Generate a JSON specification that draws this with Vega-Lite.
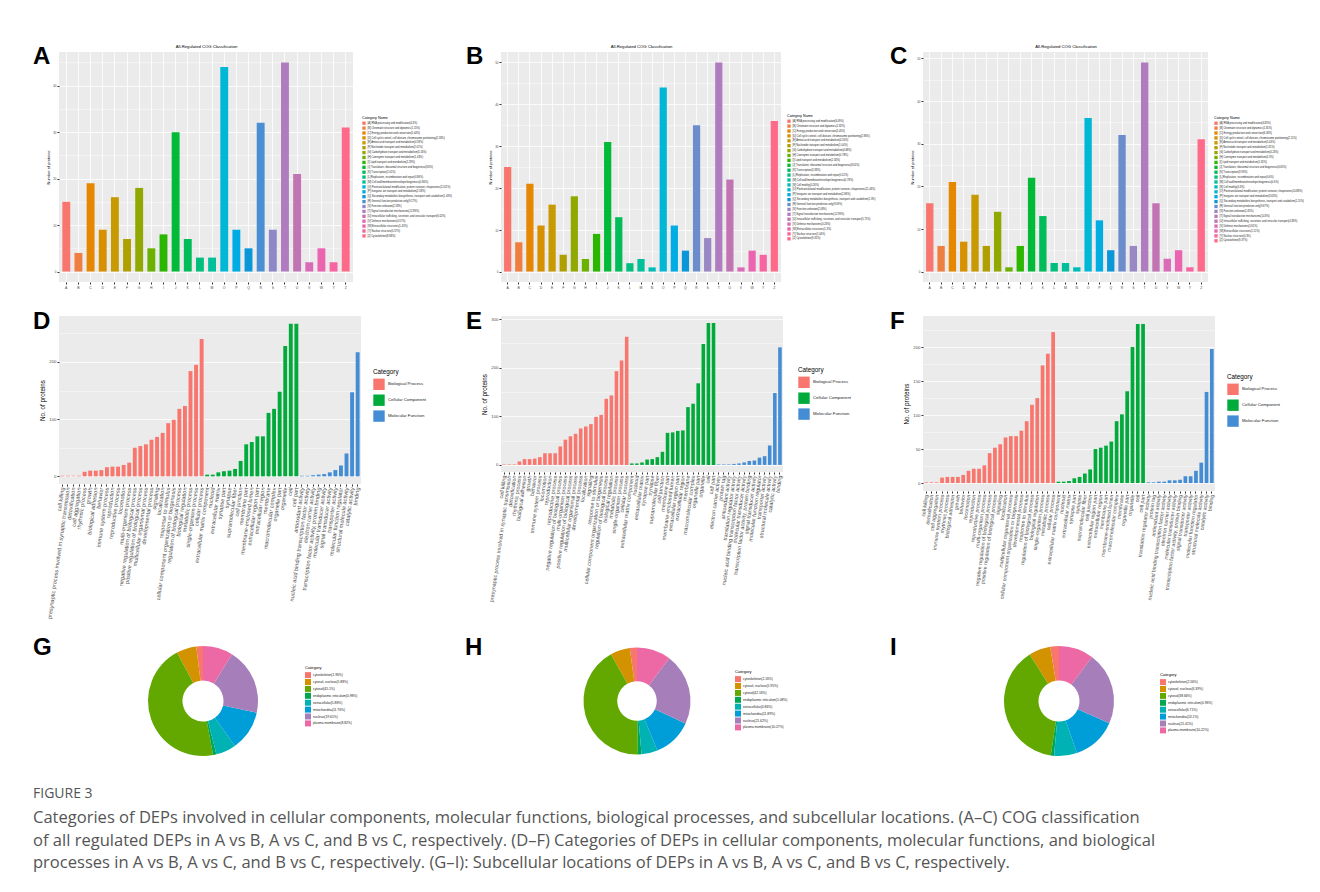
{
  "$schema": "https://vega.github.io/schema/vega-lite/v6.json",
  "background": "white",
  "padding": {"left": 33, "top": 44, "right": 0, "bottom": 0},
  "config": {
    "font": "Liberation Sans",
    "view": {"stroke": null},
    "axis": {"labelColor": "#4D4D4D", "tickColor": "#333333", "titleColor": "#000000", "titleFontWeight": "normal", "domain": false, "gridColor": "#FFFFFF"},
    "legend": {"titleFontWeight": "normal", "titleColor": "#000000", "labelColor": "#222222", "symbolType": "square", "symbolStrokeWidth": 0}
  },
  "title": {
    "text": "FIGURE 3",
    "subtitle": [
      "Categories of DEPs involved in cellular components, molecular functions, biological processes, and subcellular locations. (A–C) COG classification",
      "of all regulated DEPs in A vs B, A vs C, and B vs C, respectively. (D–F) Categories of DEPs in cellular components, molecular functions, and biological",
      "processes in A vs B, A vs C, and B vs C, respectively. (G–I): Subcellular locations of DEPs in A vs B, A vs C, and B vs C, respectively."
    ],
    "orient": "bottom", "anchor": "start", "frame": "bounds", "offset": -90,
    "font": "Open Sans", "fontSize": 14, "fontWeight": "normal", "color": "#555555",
    "subtitleFont": "Open Sans", "subtitleFontSize": 16.55, "subtitleColor": "#555555", "subtitleLineHeight": 22.5, "subtitlePadding": 9
  },
  "datasets": {
    "cogA": [
      {"code":"A","label":"[A] RNA processing and modification(4.3%)","n":15},
      {"code":"B","label":"[B] Chromatin structure and dynamics(1.15%)","n":4},
      {"code":"C","label":"[C] Energy production and conversion(5.44%)","n":19},
      {"code":"D","label":"[D] Cell cycle control, cell division, chromosome partitioning(2.58%)","n":9},
      {"code":"E","label":"[E] Amino acid transport and metabolism(4.58%)","n":16},
      {"code":"F","label":"[F] Nucleotide transport and metabolism(2.01%)","n":7},
      {"code":"G","label":"[G] Carbohydrate transport and metabolism(5.16%)","n":18},
      {"code":"H","label":"[H] Coenzyme transport and metabolism(1.43%)","n":5},
      {"code":"I","label":"[I] Lipid transport and metabolism(2.29%)","n":8},
      {"code":"J","label":"[J] Translation, ribosomal structure and biogenesis(8.6%)","n":30},
      {"code":"K","label":"[K] Transcription(2.01%)","n":7},
      {"code":"L","label":"[L] Replication, recombination and repair(0.86%)","n":3},
      {"code":"M","label":"[M] Cell wall/membrane/envelope biogenesis(0.86%)","n":3},
      {"code":"O","label":"[O] Posttranslational modification, protein turnover, chaperones(12.61%)","n":44},
      {"code":"P","label":"[P] Inorganic ion transport and metabolism(2.58%)","n":9},
      {"code":"Q","label":"[Q] Secondary metabolites biosynthesis, transport and catabolism(1.43%)","n":5},
      {"code":"R","label":"[R] General function prediction only(9.17%)","n":32},
      {"code":"S","label":"[S] Function unknown(2.58%)","n":9},
      {"code":"T","label":"[T] Signal transduction mechanisms(12.89%)","n":45},
      {"code":"U","label":"[U] Intracellular trafficking, secretion, and vesicular transport(6.02%)","n":21},
      {"code":"V","label":"[V] Defense mechanisms(0.57%)","n":2},
      {"code":"W","label":"[W] Extracellular structures(1.43%)","n":5},
      {"code":"Y","label":"[Y] Nuclear structure(0.57%)","n":2},
      {"code":"Z","label":"[Z] Cytoskeleton(8.88%)","n":31}
    ],
    "cogB": [
      {"code":"A","label":"[A] RNA processing and modification(6.49%)","n":25},
      {"code":"B","label":"[B] Chromatin structure and dynamics(1.82%)","n":7},
      {"code":"C","label":"[C] Energy production and conversion(5.45%)","n":21},
      {"code":"D","label":"[D] Cell cycle control, cell division, chromosome partitioning(2.86%)","n":11},
      {"code":"E","label":"[E] Amino acid transport and metabolism(4.16%)","n":16},
      {"code":"F","label":"[F] Nucleotide transport and metabolism(1.04%)","n":4},
      {"code":"G","label":"[G] Carbohydrate transport and metabolism(4.68%)","n":18},
      {"code":"H","label":"[H] Coenzyme transport and metabolism(0.78%)","n":3},
      {"code":"I","label":"[I] Lipid transport and metabolism(2.34%)","n":9},
      {"code":"J","label":"[J] Translation, ribosomal structure and biogenesis(8.05%)","n":31},
      {"code":"K","label":"[K] Transcription(3.38%)","n":13},
      {"code":"L","label":"[L] Replication, recombination and repair(0.52%)","n":2},
      {"code":"M","label":"[M] Cell wall/membrane/envelope biogenesis(0.78%)","n":3},
      {"code":"N","label":"[N] Cell motility(0.26%)","n":1},
      {"code":"O","label":"[O] Posttranslational modification, protein turnover, chaperones(11.43%)","n":44},
      {"code":"P","label":"[P] Inorganic ion transport and metabolism(2.86%)","n":11},
      {"code":"Q","label":"[Q] Secondary metabolites biosynthesis, transport and catabolism(1.3%)","n":5},
      {"code":"R","label":"[R] General function prediction only(9.09%)","n":35},
      {"code":"S","label":"[S] Function unknown(2.08%)","n":8},
      {"code":"T","label":"[T] Signal transduction mechanisms(12.99%)","n":50},
      {"code":"U","label":"[U] Intracellular trafficking, secretion, and vesicular transport(5.71%)","n":22},
      {"code":"V","label":"[V] Defense mechanisms(0.26%)","n":1},
      {"code":"W","label":"[W] Extracellular structures(1.3%)","n":5},
      {"code":"Y","label":"[Y] Nuclear structure(1.04%)","n":4},
      {"code":"Z","label":"[Z] Cytoskeleton(9.35%)","n":36}
    ],
    "cogC": [
      {"code":"A","label":"[A] RNA processing and modification(4.83%)","n":16},
      {"code":"B","label":"[B] Chromatin structure and dynamics(1.81%)","n":6},
      {"code":"C","label":"[C] Energy production and conversion(6.34%)","n":21},
      {"code":"D","label":"[D] Cell cycle control, cell division, chromosome partitioning(2.11%)","n":7},
      {"code":"E","label":"[E] Amino acid transport and metabolism(5.44%)","n":18},
      {"code":"F","label":"[F] Nucleotide transport and metabolism(1.81%)","n":6},
      {"code":"G","label":"[G] Carbohydrate transport and metabolism(4.23%)","n":14},
      {"code":"H","label":"[H] Coenzyme transport and metabolism(0.3%)","n":1},
      {"code":"I","label":"[I] Lipid transport and metabolism(1.81%)","n":6},
      {"code":"J","label":"[J] Translation, ribosomal structure and biogenesis(6.65%)","n":22},
      {"code":"K","label":"[K] Transcription(3.93%)","n":13},
      {"code":"L","label":"[L] Replication, recombination and repair(0.6%)","n":2},
      {"code":"M","label":"[M] Cell wall/membrane/envelope biogenesis(0.6%)","n":2},
      {"code":"N","label":"[N] Cell motility(0.3%)","n":1},
      {"code":"O","label":"[O] Posttranslational modification, protein turnover, chaperones(10.88%)","n":36},
      {"code":"P","label":"[P] Inorganic ion transport and metabolism(3.63%)","n":12},
      {"code":"Q","label":"[Q] Secondary metabolites biosynthesis, transport and catabolism(1.51%)","n":5},
      {"code":"R","label":"[R] General function prediction only(9.67%)","n":32},
      {"code":"S","label":"[S] Function unknown(1.81%)","n":6},
      {"code":"T","label":"[T] Signal transduction mechanisms(14.8%)","n":49},
      {"code":"U","label":"[U] Intracellular trafficking, secretion, and vesicular transport(4.83%)","n":16},
      {"code":"V","label":"[V] Defense mechanisms(0.91%)","n":3},
      {"code":"W","label":"[W] Extracellular structures(1.51%)","n":5},
      {"code":"Y","label":"[Y] Nuclear structure(0.3%)","n":1},
      {"code":"Z","label":"[Z] Cytoskeleton(9.37%)","n":31}
    ],
    "goD": [
      {"category":"Biological Process","term":"cell killing","n":1},
      {"category":"Biological Process","term":"presynaptic process involved in synaptic transmission","n":1},
      {"category":"Biological Process","term":"detoxification","n":1},
      {"category":"Biological Process","term":"cell aggregation","n":1},
      {"category":"Biological Process","term":"rhythmic process","n":8},
      {"category":"Biological Process","term":"growth","n":10},
      {"category":"Biological Process","term":"biological adhesion","n":10},
      {"category":"Biological Process","term":"behavior","n":11},
      {"category":"Biological Process","term":"immune system process","n":16},
      {"category":"Biological Process","term":"reproduction","n":17},
      {"category":"Biological Process","term":"reproductive process","n":17},
      {"category":"Biological Process","term":"locomotion","n":20},
      {"category":"Biological Process","term":"multi-organism process","n":24},
      {"category":"Biological Process","term":"negative regulation of biological process","n":50},
      {"category":"Biological Process","term":"positive regulation of biological process","n":53},
      {"category":"Biological Process","term":"multicellular organismal process","n":56},
      {"category":"Biological Process","term":"developmental process","n":64},
      {"category":"Biological Process","term":"signaling","n":69},
      {"category":"Biological Process","term":"localization","n":76},
      {"category":"Biological Process","term":"response to stimulus","n":93},
      {"category":"Biological Process","term":"cellular component organization or biogenesis","n":99},
      {"category":"Biological Process","term":"regulation of biological process","n":118},
      {"category":"Biological Process","term":"biological regulation","n":123},
      {"category":"Biological Process","term":"metabolic process","n":184},
      {"category":"Biological Process","term":"single-organism process","n":195},
      {"category":"Biological Process","term":"cellular process","n":240},
      {"category":"Cellular Component","term":"extracellular matrix component","n":3},
      {"category":"Cellular Component","term":"nucleoid","n":3},
      {"category":"Cellular Component","term":"extracellular matrix","n":7},
      {"category":"Cellular Component","term":"synapse part","n":9},
      {"category":"Cellular Component","term":"synapse","n":10},
      {"category":"Cellular Component","term":"supramolecular fiber","n":13},
      {"category":"Cellular Component","term":"cell junction","n":27},
      {"category":"Cellular Component","term":"membrane part","n":56},
      {"category":"Cellular Component","term":"membrane-enclosed lumen","n":60},
      {"category":"Cellular Component","term":"extracellular region part","n":70},
      {"category":"Cellular Component","term":"extracellular region","n":70},
      {"category":"Cellular Component","term":"membrane","n":111},
      {"category":"Cellular Component","term":"macromolecular complex","n":118},
      {"category":"Cellular Component","term":"organelle part","n":148},
      {"category":"Cellular Component","term":"organelle","n":228},
      {"category":"Cellular Component","term":"cell","n":267},
      {"category":"Cellular Component","term":"cell part","n":267},
      {"category":"Molecular Function","term":"antioxidant activity","n":1},
      {"category":"Molecular Function","term":"nucleic acid binding transcription factor activity","n":1},
      {"category":"Molecular Function","term":"electron carrier activity","n":2},
      {"category":"Molecular Function","term":"transcription factor activity, protein binding","n":3},
      {"category":"Molecular Function","term":"molecular transducer activity","n":4},
      {"category":"Molecular Function","term":"signal transducer activity","n":7},
      {"category":"Molecular Function","term":"transporter activity","n":11},
      {"category":"Molecular Function","term":"molecular function regulator","n":19},
      {"category":"Molecular Function","term":"structural molecule activity","n":40},
      {"category":"Molecular Function","term":"catalytic activity","n":147},
      {"category":"Molecular Function","term":"binding","n":217}
    ],
    "goE": [
      {"category":"Biological Process","term":"cell killing","n":1},
      {"category":"Biological Process","term":"presynaptic process involved in synaptic transmission","n":1},
      {"category":"Biological Process","term":"detoxification","n":1},
      {"category":"Biological Process","term":"rhythmic process","n":7},
      {"category":"Biological Process","term":"biological adhesion","n":12},
      {"category":"Biological Process","term":"growth","n":12},
      {"category":"Biological Process","term":"behavior","n":13},
      {"category":"Biological Process","term":"immune system process","n":16},
      {"category":"Biological Process","term":"locomotion","n":24},
      {"category":"Biological Process","term":"reproduction","n":24},
      {"category":"Biological Process","term":"reproductive process","n":24},
      {"category":"Biological Process","term":"negative regulation of biological process","n":38},
      {"category":"Biological Process","term":"multi-organism process","n":52},
      {"category":"Biological Process","term":"positive regulation of biological process","n":59},
      {"category":"Biological Process","term":"multicellular organismal process","n":64},
      {"category":"Biological Process","term":"developmental process","n":75},
      {"category":"Biological Process","term":"localization","n":79},
      {"category":"Biological Process","term":"signaling","n":84},
      {"category":"Biological Process","term":"response to stimulus","n":99},
      {"category":"Biological Process","term":"cellular component organization or biogenesis","n":103},
      {"category":"Biological Process","term":"regulation of biological process","n":136},
      {"category":"Biological Process","term":"biological regulation","n":143},
      {"category":"Biological Process","term":"metabolic process","n":193},
      {"category":"Biological Process","term":"single-organism process","n":215},
      {"category":"Biological Process","term":"cellular process","n":264},
      {"category":"Cellular Component","term":"extracellular matrix component","n":3},
      {"category":"Cellular Component","term":"nucleoid","n":3},
      {"category":"Cellular Component","term":"extracellular matrix","n":5},
      {"category":"Cellular Component","term":"synapse part","n":11},
      {"category":"Cellular Component","term":"synapse","n":12},
      {"category":"Cellular Component","term":"supramolecular fiber","n":16},
      {"category":"Cellular Component","term":"cell junction","n":27},
      {"category":"Cellular Component","term":"membrane part","n":66},
      {"category":"Cellular Component","term":"membrane-enclosed lumen","n":67},
      {"category":"Cellular Component","term":"extracellular region part","n":70},
      {"category":"Cellular Component","term":"extracellular region","n":71},
      {"category":"Cellular Component","term":"membrane","n":119},
      {"category":"Cellular Component","term":"macromolecular complex","n":126},
      {"category":"Cellular Component","term":"organelle part","n":168},
      {"category":"Cellular Component","term":"organelle","n":249},
      {"category":"Cellular Component","term":"cell","n":292},
      {"category":"Cellular Component","term":"cell part","n":292},
      {"category":"Molecular Function","term":"electron carrier activity","n":1},
      {"category":"Molecular Function","term":"protein tag","n":1},
      {"category":"Molecular Function","term":"antioxidant activity","n":1},
      {"category":"Molecular Function","term":"translation regulator activity","n":2},
      {"category":"Molecular Function","term":"nucleic acid binding transcription factor activity","n":3},
      {"category":"Molecular Function","term":"molecular transducer activity","n":5},
      {"category":"Molecular Function","term":"transcription factor activity, protein binding","n":8},
      {"category":"Molecular Function","term":"signal transducer activity","n":9},
      {"category":"Molecular Function","term":"molecular function regulator","n":15},
      {"category":"Molecular Function","term":"transporter activity","n":18},
      {"category":"Molecular Function","term":"structural molecule activity","n":40},
      {"category":"Molecular Function","term":"catalytic activity","n":148},
      {"category":"Molecular Function","term":"binding","n":242}
    ],
    "goF": [
      {"category":"Biological Process","term":"cell killing","n":1},
      {"category":"Biological Process","term":"detoxification","n":1},
      {"category":"Biological Process","term":"cell aggregation","n":1},
      {"category":"Biological Process","term":"immune system process","n":8},
      {"category":"Biological Process","term":"rhythmic process","n":9},
      {"category":"Biological Process","term":"biological adhesion","n":9},
      {"category":"Biological Process","term":"growth","n":9},
      {"category":"Biological Process","term":"behavior","n":12},
      {"category":"Biological Process","term":"locomotion","n":18},
      {"category":"Biological Process","term":"reproduction","n":21},
      {"category":"Biological Process","term":"reproductive process","n":21},
      {"category":"Biological Process","term":"multi-organism process","n":26},
      {"category":"Biological Process","term":"negative regulation of biological process","n":44},
      {"category":"Biological Process","term":"positive regulation of biological process","n":52},
      {"category":"Biological Process","term":"signaling","n":57},
      {"category":"Biological Process","term":"localization","n":67},
      {"category":"Biological Process","term":"multicellular organismal process","n":69},
      {"category":"Biological Process","term":"cellular component organization or biogenesis","n":69},
      {"category":"Biological Process","term":"developmental process","n":77},
      {"category":"Biological Process","term":"response to stimulus","n":91},
      {"category":"Biological Process","term":"regulation of biological process","n":115},
      {"category":"Biological Process","term":"biological regulation","n":125},
      {"category":"Biological Process","term":"single-organism process","n":173},
      {"category":"Biological Process","term":"metabolic process","n":190},
      {"category":"Biological Process","term":"cellular process","n":222},
      {"category":"Cellular Component","term":"extracellular matrix component","n":2},
      {"category":"Cellular Component","term":"nucleoid","n":2},
      {"category":"Cellular Component","term":"extracellular matrix","n":3},
      {"category":"Cellular Component","term":"synapse part","n":7},
      {"category":"Cellular Component","term":"synapse","n":9},
      {"category":"Cellular Component","term":"supramolecular fiber","n":14},
      {"category":"Cellular Component","term":"cell junction","n":20},
      {"category":"Cellular Component","term":"extracellular region part","n":50},
      {"category":"Cellular Component","term":"extracellular region","n":52},
      {"category":"Cellular Component","term":"membrane part","n":55},
      {"category":"Cellular Component","term":"membrane-enclosed lumen","n":61},
      {"category":"Cellular Component","term":"macromolecular complex","n":91},
      {"category":"Cellular Component","term":"membrane","n":101},
      {"category":"Cellular Component","term":"organelle part","n":135},
      {"category":"Cellular Component","term":"organelle","n":200},
      {"category":"Cellular Component","term":"cell","n":234},
      {"category":"Cellular Component","term":"cell part","n":234},
      {"category":"Molecular Function","term":"translation regulator activity","n":1},
      {"category":"Molecular Function","term":"protein tag","n":1},
      {"category":"Molecular Function","term":"antioxidant activity","n":2},
      {"category":"Molecular Function","term":"nucleic acid binding transcription factor activity","n":2},
      {"category":"Molecular Function","term":"electron carrier activity","n":4},
      {"category":"Molecular Function","term":"molecular transducer activity","n":4},
      {"category":"Molecular Function","term":"transcription factor activity, protein binding","n":5},
      {"category":"Molecular Function","term":"signal transducer activity","n":10},
      {"category":"Molecular Function","term":"transporter activity","n":10},
      {"category":"Molecular Function","term":"molecular function regulator","n":18},
      {"category":"Molecular Function","term":"structural molecule activity","n":30},
      {"category":"Molecular Function","term":"catalytic activity","n":134},
      {"category":"Molecular Function","term":"binding","n":197}
    ],
    "subG": [
      {"idx":1,"loc":"cytoskeleton(1.96%)","n":2},
      {"idx":2,"loc":"cytosol, nucleus(5.88%)","n":6},
      {"idx":3,"loc":"cytosol(45.1%)","n":46},
      {"idx":4,"loc":"endoplasmic reticulum(0.98%)","n":1},
      {"idx":5,"loc":"extracellular(5.88%)","n":6},
      {"idx":6,"loc":"mitochondria(11.76%)","n":12},
      {"idx":7,"loc":"nucleus(19.61%)","n":20},
      {"idx":8,"loc":"plasma membrane(8.82%)","n":9}
    ],
    "subH": [
      {"idx":1,"loc":"cytoskeleton(2.16%)","n":4},
      {"idx":2,"loc":"cytosol, nucleus(5.95%)","n":11},
      {"idx":3,"loc":"cytosol(42.16%)","n":78},
      {"idx":4,"loc":"endoplasmic reticulum(1.08%)","n":2},
      {"idx":5,"loc":"extracellular(4.86%)","n":9},
      {"idx":6,"loc":"mitochondria(11.89%)","n":22},
      {"idx":7,"loc":"nucleus(21.62%)","n":40},
      {"idx":8,"loc":"plasma membrane(10.27%)","n":19}
    ],
    "subI": [
      {"idx":1,"loc":"cytoskeleton(2.56%)","n":8},
      {"idx":2,"loc":"cytosol, nucleus(6.39%)","n":20},
      {"idx":3,"loc":"cytosol(38.66%)","n":121},
      {"idx":4,"loc":"endoplasmic reticulum(0.96%)","n":3},
      {"idx":5,"loc":"extracellular(6.71%)","n":21},
      {"idx":6,"loc":"mitochondria(13.1%)","n":41},
      {"idx":7,"loc":"nucleus(21.41%)","n":67},
      {"idx":8,"loc":"plasma membrane(10.22%)","n":32}
    ]
  },
  "columns": 3,
  "bounds": "flush",
  "align": "each",
  "spacing": {"row": 34, "column": 140},
  "resolve": {"scale": {"color": "independent"}},
  "concat": [
    {
      "width": 294, "height": 230,
      "view": {"fill": "#EBEBEB", "stroke": null},
      "title": {"text": "A", "anchor": "start", "frame": "group", "dx": -26, "offset": -24, "fontSize": 24, "fontWeight": "bold", "font": "Liberation Sans", "color": "#000000"},
      "data": {"name": "cogA"},
      "layer": [
        {
          "mark": {"type": "bar"},
          "encoding": {
            "x": {"field": "code", "type": "nominal", "sort": null, "scale": {"paddingInner": 0.35, "paddingOuter": 0.275},
              "axis": {"title": null, "labelAngle": 0, "labelFontSize": 3.5, "tickSize": 2, "labelPadding": 1, "grid": true, "gridWidth": 0.8}},
            "y": {"field": "n", "type": "quantitative", "scale": {"domain": [-2.25, 47.25], "nice": false},
              "axis": {"title": "Number of proteins", "titleFontSize": 4, "titlePadding": 2, "values": [0, 10, 20, 30, 40], "labelFontSize": 3, "tickSize": 2, "labelPadding": 1, "grid": true, "gridWidth": 0.8}},
            "color": {"field": "label", "type": "nominal",
              "scale": {"range": ["#F8766D","#EF7F40","#E58700","#D79000","#C69A00","#B09F00","#91A800","#6BB100","#2BB600","#00BA38","#00BC59","#00BF7D","#00C09B","#00B8D6","#00ACE4","#0A97DA","#4A8FD3","#8E88C8","#B07CBF","#C173B3","#DA6BB8","#EA64B0","#F7649F","#FF6A8A"]},
              "legend": {"orient": "none", "legendX": 303, "legendY": 64, "title": "Category Name", "titleFontSize": 3.7, "titlePadding": 1.5, "labelFontSize": 2.6, "symbolSize": 11, "rowPadding": 0.9, "labelOffset": 1.5, "labelLimit": 300}}
          }
        },
        {
          "mark": {"type": "bar", "opacity": 0},
          "encoding": {
            "x": {"field": "code", "type": "nominal", "sort": null,
              "axis": {"orient": "top", "title": "All-Regulated COG Classification", "titleFontSize": 4.2, "titlePadding": 3.5, "labels": false, "ticks": false, "grid": false}},
            "y": {"field": "n", "type": "quantitative",
              "axis": {"orient": "right", "title": null, "labels": false, "ticks": false, "values": [5, 15, 25, 35, 45], "grid": true, "gridWidth": 0.4}}
          }
        }
      ],
      "resolve": {"axis": {"x": "independent", "y": "independent"}}
    },
    {
      "width": 280, "height": 230,
      "view": {"fill": "#EBEBEB", "stroke": null},
      "title": {"text": "B", "anchor": "start", "frame": "group", "dx": -35, "offset": -24, "fontSize": 24, "fontWeight": "bold", "font": "Liberation Sans", "color": "#000000"},
      "data": {"name": "cogB"},
      "layer": [
        {
          "mark": {"type": "bar"},
          "encoding": {
            "x": {"field": "code", "type": "nominal", "sort": null, "scale": {"paddingInner": 0.35, "paddingOuter": 0.275},
              "axis": {"title": null, "labelAngle": 0, "labelFontSize": 3.5, "tickSize": 2, "labelPadding": 1, "grid": true, "gridWidth": 0.8}},
            "y": {"field": "n", "type": "quantitative", "scale": {"domain": [-2.5, 52.5], "nice": false},
              "axis": {"title": "Number of proteins", "titleFontSize": 4, "titlePadding": 2, "values": [0, 10, 20, 30, 40, 50], "labelFontSize": 3, "tickSize": 2, "labelPadding": 1, "grid": true, "gridWidth": 0.8}},
            "color": {"field": "label", "type": "nominal",
              "scale": {"range": ["#F8766D","#EF7F40","#E58700","#D79000","#C69A00","#B09F00","#91A800","#6BB100","#2BB600","#00BA38","#00BC59","#00BF7D","#00C09B","#00BDBA","#00B8D6","#00ACE4","#0A97DA","#6B8DCC","#9A88C5","#B07CBF","#C173B3","#DA6BB8","#EA64B0","#F7649F","#FF6A8A"]},
              "legend": {"orient": "none", "legendX": 286, "legendY": 62, "title": "Category Name", "titleFontSize": 3.7, "titlePadding": 1.5, "labelFontSize": 2.6, "symbolSize": 11, "rowPadding": 0.9, "labelOffset": 1.5, "labelLimit": 300}}
          }
        },
        {
          "mark": {"type": "bar", "opacity": 0},
          "encoding": {
            "x": {"field": "code", "type": "nominal", "sort": null,
              "axis": {"orient": "top", "title": "All-Regulated COG Classification", "titleFontSize": 4.2, "titlePadding": 3.5, "labels": false, "ticks": false, "grid": false}},
            "y": {"field": "n", "type": "quantitative",
              "axis": {"orient": "right", "title": null, "labels": false, "ticks": false, "values": [5, 15, 25, 35, 45], "grid": true, "gridWidth": 0.4}}
          }
        }
      ],
      "resolve": {"axis": {"x": "independent", "y": "independent"}}
    },
    {
      "width": 285, "height": 230,
      "view": {"fill": "#EBEBEB", "stroke": null},
      "title": {"text": "C", "anchor": "start", "frame": "group", "dx": -33, "offset": -24, "fontSize": 24, "fontWeight": "bold", "font": "Liberation Sans", "color": "#000000"},
      "data": {"name": "cogC"},
      "layer": [
        {
          "mark": {"type": "bar"},
          "encoding": {
            "x": {"field": "code", "type": "nominal", "sort": null, "scale": {"paddingInner": 0.35, "paddingOuter": 0.275},
              "axis": {"title": null, "labelAngle": 0, "labelFontSize": 3.5, "tickSize": 2, "labelPadding": 1, "grid": true, "gridWidth": 0.8}},
            "y": {"field": "n", "type": "quantitative", "scale": {"domain": [-2.45, 51.45], "nice": false},
              "axis": {"title": "Number of proteins", "titleFontSize": 4, "titlePadding": 2, "values": [0, 10, 20, 30, 40, 50], "labelFontSize": 3, "tickSize": 2, "labelPadding": 1, "grid": true, "gridWidth": 0.8}},
            "color": {"field": "label", "type": "nominal",
              "scale": {"range": ["#F8766D","#EF7F40","#E58700","#D79000","#C69A00","#B09F00","#91A800","#6BB100","#2BB600","#00BA38","#00BC59","#00BF7D","#00C09B","#00BDBA","#00B8D6","#00ACE4","#0A97DA","#6B8DCC","#9A88C5","#B07CBF","#C173B3","#DA6BB8","#EA64B0","#F7649F","#FF6A8A"]},
              "legend": {"orient": "none", "legendX": 291, "legendY": 64, "title": "Category Name", "titleFontSize": 3.7, "titlePadding": 1.5, "labelFontSize": 2.6, "symbolSize": 11, "rowPadding": 0.9, "labelOffset": 1.5, "labelLimit": 300}}
          }
        },
        {
          "mark": {"type": "bar", "opacity": 0},
          "encoding": {
            "x": {"field": "code", "type": "nominal", "sort": null,
              "axis": {"orient": "top", "title": "All-Regulated COG Classification", "titleFontSize": 4.2, "titlePadding": 3.5, "labels": false, "ticks": false, "grid": false}},
            "y": {"field": "n", "type": "quantitative",
              "axis": {"orient": "right", "title": null, "labels": false, "ticks": false, "values": [5, 15, 25, 35, 45], "grid": true, "gridWidth": 0.4}}
          }
        }
      ],
      "resolve": {"axis": {"x": "independent", "y": "independent"}}
    },
    {
      "width": 302, "height": 168,
      "view": {"fill": "#EBEBEB", "stroke": null},
      "title": {"text": "D", "anchor": "start", "frame": "group", "dx": -26, "offset": -18, "fontSize": 24, "fontWeight": "bold", "font": "Liberation Sans", "color": "#000000"},
      "data": {"name": "goD"},
      "layer": [
        {
          "mark": {"type": "bar"},
          "encoding": {
            "x": {"field": "term", "type": "nominal", "sort": null, "scale": {"paddingInner": 0.3, "paddingOuter": 0.25},
              "axis": {"title": null, "labelAngle": -82, "labelFontSize": 5.6, "tickSize": 2, "labelPadding": 1, "labelLimit": 400, "grid": false}},
            "y": {"field": "n", "type": "quantitative", "scale": {"domain": [-13.35, 280.35], "nice": false},
              "axis": {"title": "No. of proteins", "titleFontSize": 6.3, "titlePadding": 3, "values": [0, 100, 200], "labelFontSize": 4.3, "tickSize": 2, "labelPadding": 1, "grid": true, "gridWidth": 0.8}},
            "color": {"field": "category", "type": "nominal",
              "scale": {"range": ["#F8766D", "#00AB3C", "#448DD4"]},
              "legend": {"orient": "none", "legendX": 314, "legendY": 53, "title": "Category", "titleFontSize": 6.3, "titlePadding": 3, "labelFontSize": 4.3, "symbolSize": 130, "rowPadding": 3.9, "labelOffset": 3}}
          }
        },
        {
          "mark": {"type": "bar", "opacity": 0},
          "encoding": {
            "x": {"field": "term", "type": "nominal", "sort": null},
            "y": {"field": "n", "type": "quantitative",
              "axis": {"orient": "right", "title": null, "labels": false, "ticks": false, "values": [50, 150, 250], "grid": true, "gridWidth": 0.4}}
          }
        }
      ],
      "resolve": {"axis": {"y": "independent"}}
    },
    {
      "width": 282, "height": 156,
      "view": {"fill": "#EBEBEB", "stroke": null},
      "title": {"text": "E", "anchor": "start", "frame": "group", "dx": -35, "offset": -18, "fontSize": 24, "fontWeight": "bold", "font": "Liberation Sans", "color": "#000000"},
      "data": {"name": "goE"},
      "layer": [
        {
          "mark": {"type": "bar"},
          "encoding": {
            "x": {"field": "term", "type": "nominal", "sort": null, "scale": {"paddingInner": 0.3, "paddingOuter": 0.25},
              "axis": {"title": null, "labelAngle": -82, "labelFontSize": 5.4, "tickSize": 2, "labelPadding": 1, "labelLimit": 400, "grid": false}},
            "y": {"field": "n", "type": "quantitative", "scale": {"domain": [-14.6, 306.6], "nice": false},
              "axis": {"title": "No. of proteins", "titleFontSize": 6.3, "titlePadding": 3, "values": [0, 100, 200, 300], "labelFontSize": 4.3, "tickSize": 2, "labelPadding": 1, "grid": true, "gridWidth": 0.8}},
            "color": {"field": "category", "type": "nominal",
              "scale": {"range": ["#F8766D", "#00AB3C", "#448DD4"]},
              "legend": {"orient": "none", "legendX": 297, "legendY": 51, "title": "Category", "titleFontSize": 6.3, "titlePadding": 3, "labelFontSize": 4.3, "symbolSize": 130, "rowPadding": 3.9, "labelOffset": 3}}
          }
        },
        {
          "mark": {"type": "bar", "opacity": 0},
          "encoding": {
            "x": {"field": "term", "type": "nominal", "sort": null},
            "y": {"field": "n", "type": "quantitative",
              "axis": {"orient": "right", "title": null, "labels": false, "ticks": false, "values": [50, 150, 250], "grid": true, "gridWidth": 0.4}}
          }
        }
      ],
      "resolve": {"axis": {"y": "independent"}}
    },
    {
      "width": 292, "height": 175,
      "view": {"fill": "#EBEBEB", "stroke": null},
      "title": {"text": "F", "anchor": "start", "frame": "group", "dx": -33, "offset": -18, "fontSize": 24, "fontWeight": "bold", "font": "Liberation Sans", "color": "#000000"},
      "data": {"name": "goF"},
      "layer": [
        {
          "mark": {"type": "bar"},
          "encoding": {
            "x": {"field": "term", "type": "nominal", "sort": null, "scale": {"paddingInner": 0.3, "paddingOuter": 0.25},
              "axis": {"title": null, "labelAngle": -82, "labelFontSize": 5.2, "tickSize": 2, "labelPadding": 1, "labelLimit": 400, "grid": false}},
            "y": {"field": "n", "type": "quantitative", "scale": {"domain": [-11.7, 245.7], "nice": false},
              "axis": {"title": "No. of proteins", "titleFontSize": 6.3, "titlePadding": 3, "values": [0, 50, 100, 150, 200], "labelFontSize": 4.3, "tickSize": 2, "labelPadding": 1, "grid": true, "gridWidth": 0.8}},
            "color": {"field": "category", "type": "nominal",
              "scale": {"range": ["#F8766D", "#00AB3C", "#448DD4"]},
              "legend": {"orient": "none", "legendX": 304, "legendY": 58, "title": "Category", "titleFontSize": 6.3, "titlePadding": 3, "labelFontSize": 4.3, "symbolSize": 130, "rowPadding": 3.9, "labelOffset": 3}}
          }
        },
        {
          "mark": {"type": "bar", "opacity": 0},
          "encoding": {
            "x": {"field": "term", "type": "nominal", "sort": null},
            "y": {"field": "n", "type": "quantitative",
              "axis": {"orient": "right", "title": null, "labels": false, "ticks": false, "values": [25, 75, 125, 175, 225], "grid": true, "gridWidth": 0.4}}
          }
        }
      ],
      "resolve": {"axis": {"y": "independent"}}
    },
    {
      "width": 288, "height": 352,
      "title": {"text": "G", "anchor": "start", "frame": "group", "dx": -26, "offset": -135, "fontSize": 24, "fontWeight": "bold", "font": "Liberation Sans", "color": "#000000"},
      "data": {"name": "subG"},
      "mark": {"type": "arc", "innerRadius": 20.5, "outerRadius": 55},
      "encoding": {
        "theta": {"field": "n", "type": "quantitative", "stack": true},
        "order": {"field": "idx", "type": "quantitative", "sort": "descending"},
        "color": {"field": "loc", "type": "nominal", "sort": null,
          "scale": {"range": ["#F8766D", "#D39200", "#62A800", "#00A650", "#00B2B4", "#009ED8", "#A67EB9", "#EC69A5"]},
          "legend": {"orient": "none", "legendX": 246, "legendY": 141, "title": "Category", "titleFontSize": 4.1, "titlePadding": 2, "labelFontSize": 3.3, "symbolSize": 36, "rowPadding": 0.9, "labelOffset": 2}}
      }
    },
    {
      "width": 272, "height": 352,
      "title": {"text": "H", "anchor": "start", "frame": "group", "dx": -36, "offset": -135, "fontSize": 24, "fontWeight": "bold", "font": "Liberation Sans", "color": "#000000"},
      "data": {"name": "subH"},
      "mark": {"type": "arc", "innerRadius": 19.7, "outerRadius": 53.5},
      "encoding": {
        "theta": {"field": "n", "type": "quantitative", "stack": true},
        "order": {"field": "idx", "type": "quantitative", "sort": "descending"},
        "color": {"field": "loc", "type": "nominal", "sort": null,
          "scale": {"range": ["#F8766D", "#D39200", "#62A800", "#00A650", "#00B2B4", "#009ED8", "#A67EB9", "#EC69A5"]},
          "legend": {"orient": "none", "legendX": 234, "legendY": 145, "title": "Category", "titleFontSize": 4.1, "titlePadding": 2, "labelFontSize": 3.3, "symbolSize": 36, "rowPadding": 0.9, "labelOffset": 2}}
      }
    },
    {
      "width": 272, "height": 352,
      "title": {"text": "I", "anchor": "start", "frame": "group", "dx": -33, "offset": -135, "fontSize": 24, "fontWeight": "bold", "font": "Liberation Sans", "color": "#000000"},
      "data": {"name": "subI"},
      "mark": {"type": "arc", "innerRadius": 20.5, "outerRadius": 55},
      "encoding": {
        "theta": {"field": "n", "type": "quantitative", "stack": true},
        "order": {"field": "idx", "type": "quantitative", "sort": "descending"},
        "color": {"field": "loc", "type": "nominal", "sort": null,
          "scale": {"range": ["#F8766D", "#D39200", "#62A800", "#00A650", "#00B2B4", "#009ED8", "#A67EB9", "#EC69A5"]},
          "legend": {"orient": "none", "legendX": 237, "legendY": 148, "title": "Category", "titleFontSize": 4.1, "titlePadding": 2, "labelFontSize": 3.3, "symbolSize": 36, "rowPadding": 0.9, "labelOffset": 2}}
      }
    }
  ]
}
